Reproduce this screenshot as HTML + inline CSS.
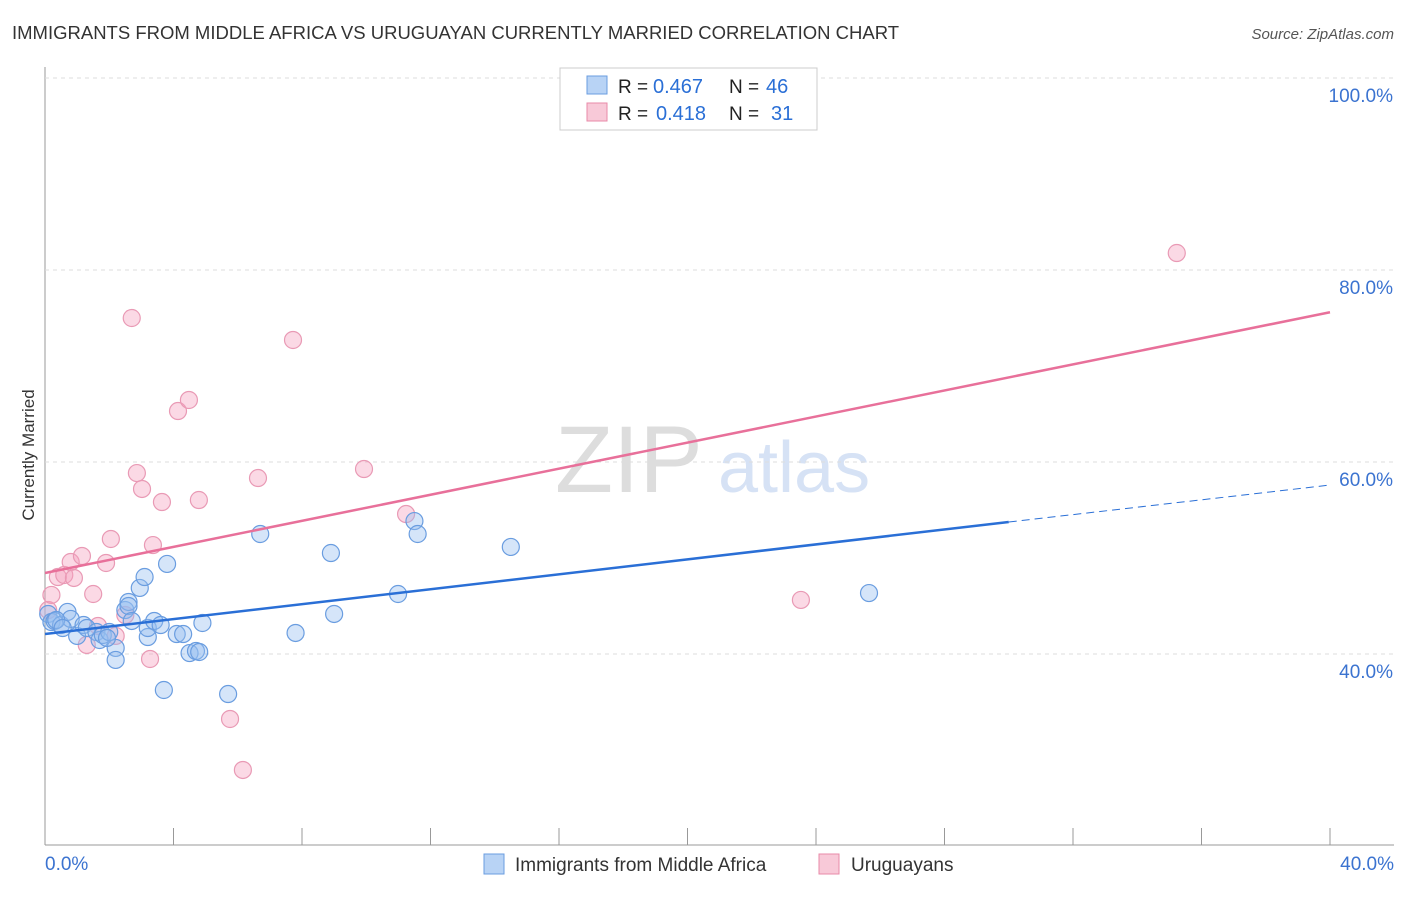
<!DOCTYPE html>
<html><head><meta charset="utf-8"><style>
body{margin:0;background:#fff;font-family:"Liberation Sans",sans-serif;}
svg text{font-family:"Liberation Sans",sans-serif;}
</style></head><body>
<svg id="chart" width="1406" height="892">
<text x="12" y="39" font-size="18.5" fill="#333">IMMIGRANTS FROM MIDDLE AFRICA VS URUGUAYAN CURRENTLY MARRIED CORRELATION CHART</text>
<text x="1394" y="39" font-size="15" fill="#555" font-style="italic" text-anchor="end">Source: ZipAtlas.com</text>
<text x="555" y="492" font-size="95" fill="#ddd" font-family="Liberation Serif">ZIP</text>
<text x="718" y="492" font-size="72" fill="#d6e2f5">atlas</text>
<text x="34" y="455" font-size="17" fill="#333" transform="rotate(-90 34 455)" text-anchor="middle">Currently Married</text>
<g id="grid"></g><g id="marks"></g>
<g>
<rect x="560" y="68" width="257" height="62" fill="#fff" stroke="#ccc"/>
<rect x="587" y="76" width="20" height="18" fill="#b8d3f5" stroke="#6a9de0"/>
<rect x="587" y="103" width="20" height="18" fill="#f8c9d8" stroke="#e88aa8"/>
<text x="618" y="93" font-size="19" fill="#222">R =</text><text x="653" y="93" font-size="20" fill="#2a6fd6">0.467</text>
<text x="729" y="93" font-size="19" fill="#222">N =</text><text x="766" y="93" font-size="20" fill="#2a6fd6">46</text>
<text x="618" y="120" font-size="19" fill="#222">R =</text><text x="656" y="120" font-size="20" fill="#2a6fd6">0.418</text>
<text x="729" y="120" font-size="19" fill="#222">N =</text><text x="771" y="120" font-size="20" fill="#2a6fd6">31</text>
</g>
<g>
<rect x="484" y="854" width="20" height="20" fill="#b8d3f5" stroke="#6a9de0"/>
<text x="515" y="871" font-size="19" fill="#333">Immigrants from Middle Africa</text>
<rect x="819" y="854" width="20" height="20" fill="#f8c9d8" stroke="#e88aa8"/>
<text x="851" y="871" font-size="19" fill="#333">Uruguayans</text>
</g>
</svg>
<script>
const yTicks=[40,60,80,100];
const xTickLabels=["0.0%","40.0%"];
const blueX=[0.1,0.2,0.3,0.5,0.7,0.8,1.0,1.2,1.3,1.6,1.7,1.8,2.0,2.2,2.2,2.5,2.6,2.6,2.7,2.95,3.1,3.2,3.2,3.4,3.6,3.7,3.8,4.1,4.3,4.5,4.7,4.8,4.9,5.7,6.7,7.8,8.9,9.0,10.99,11.5,11.6,14.5,25.65,0.35,0.55,1.93];
const blueY=[44.17,43.33,43.44,43.02,44.38,43.65,41.88,43.02,42.71,42.29,41.46,41.98,42.29,40.63,39.38,44.58,45.42,45.0,43.44,46.88,48.02,41.77,42.71,43.44,43.02,36.25,49.38,42.08,42.08,40.1,40.31,40.21,43.23,35.83,52.5,42.19,50.52,44.17,46.25,53.85,52.5,51.15,46.35,43.54,42.71,41.67];
const pinkX=[0.1,0.2,0.4,0.6,0.8,0.9,1.15,1.3,1.5,1.65,1.9,2.05,2.2,2.5,2.7,2.86,3.02,3.27,3.36,3.64,4.14,4.48,4.79,5.76,6.16,6.63,7.72,9.93,11.24,23.53,35.23];
const pinkY=[44.58,46.15,48.02,48.23,49.58,47.92,50.21,40.94,46.25,42.92,49.48,51.98,41.88,44.06,75.0,58.85,57.19,39.48,51.35,55.83,65.31,66.46,56.04,33.23,27.92,58.33,72.71,59.27,54.58,45.63,81.77];
const blueLine=[[0,42.08],[30,53.75],[40,57.6]];
const pinkLine=[[0,48.44],[40,75.6]];
const NS="http://www.w3.org/2000/svg";
const X=v=>45+v/40*1285, Y=v=>654-(v-40)/20*192;
const grid=document.getElementById('grid'),marks=document.getElementById('marks');
function mk(t,a,p){const e=document.createElementNS(NS,t);for(const k in a)e.setAttribute(k,a[k]);p.appendChild(e);return e;}
let ax=mk('line',{x1:45,y1:67,x2:45,y2:845,stroke:'#999'},grid);


let bx=mk('line',{x1:45,y1:845,x2:1394,y2:845,stroke:'#999'},grid);


for(let i=0;i<=10;i++){let l=mk('line',{x1:X(i*4),x2:X(i*4),y1:828,y2:845,stroke:'#999'},grid);

}
yTicks.forEach(v=>{let l=mk('line',{x1:45,x2:1394,y1:Y(v),y2:Y(v),stroke:'#ddd','stroke-dasharray':'4,4'},grid);


let t=mk('text',{x:1393,y:Y(v)+24,'font-size':19,fill:'#3b73d0','text-anchor':'end'},grid);t.textContent=v.toFixed(1)+'%';

});
[[45,'start'],[1394,'end']].forEach((p,i)=>{let t=mk('text',{x:p[0],y:870,'font-size':19,fill:'#3b73d0','text-anchor':p[1]},grid);t.textContent=xTickLabels[i];

});
pinkX.forEach((x,i)=>{let c=mk('circle',{cx:X(x),cy:Y(pinkY[i]),r:8.5,fill:'rgba(245,160,190,0.4)',stroke:'#e99ab5','stroke-width':1.2},marks);

});
blueX.forEach((x,i)=>{let c=mk('circle',{cx:X(x),cy:Y(blueY[i]),r:8.5,fill:'rgba(150,190,240,0.4)',stroke:'#6a9de0','stroke-width':1.2},marks);

});
let b1=mk('line',{x1:X(blueLine[0][0]),y1:Y(blueLine[0][1]),x2:X(blueLine[1][0]),y2:Y(blueLine[1][1]),stroke:'#2a6fd6','stroke-width':2.5},marks);


let b2=mk('line',{x1:X(blueLine[1][0]),y1:Y(blueLine[1][1]),x2:X(blueLine[2][0]),y2:Y(blueLine[2][1]),stroke:'#2a6fd6','stroke-width':1,'stroke-dasharray':'8,5'},marks);


let p1=mk('line',{x1:X(pinkLine[0][0]),y1:Y(pinkLine[0][1]),x2:X(pinkLine[1][0]),y2:Y(pinkLine[1][1]),stroke:'#e8709a','stroke-width':2.5},marks);


</script>
</body></html>
